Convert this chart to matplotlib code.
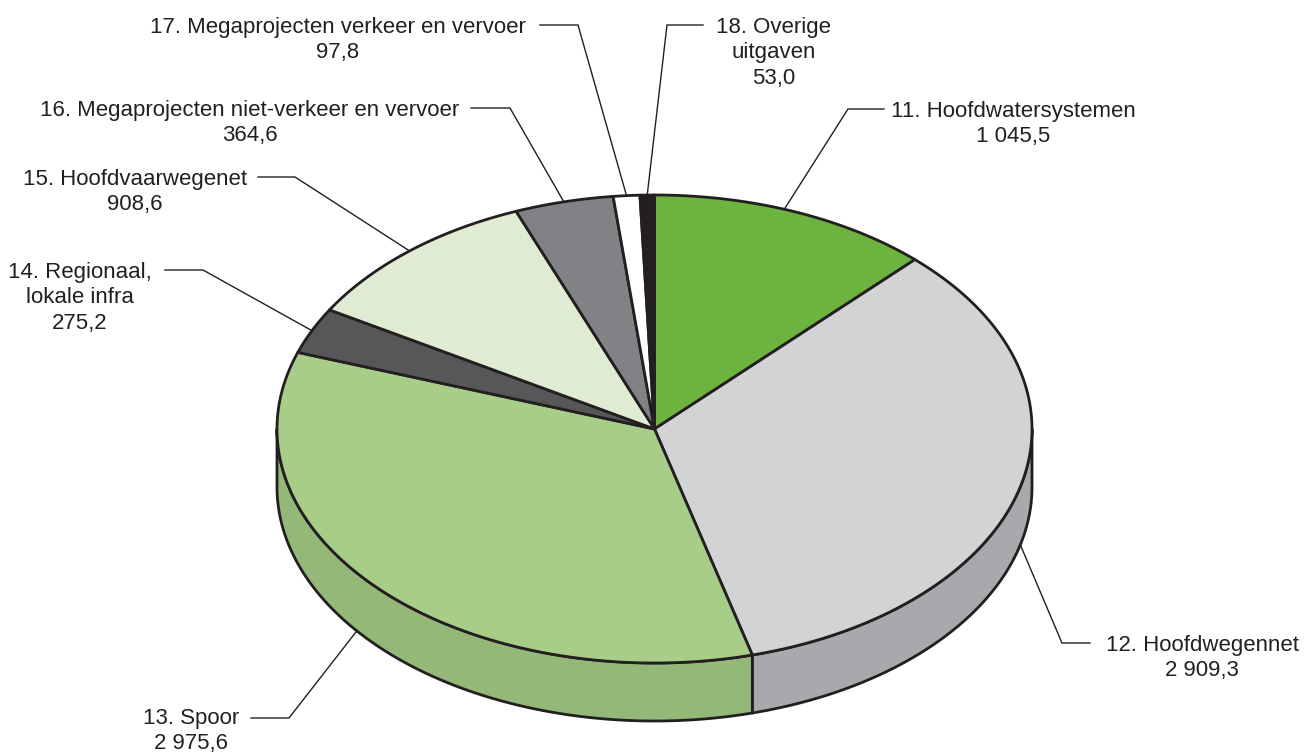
import numpy as np
import matplotlib
matplotlib.use("Agg")
import matplotlib.pyplot as plt
from matplotlib.patches import Polygon

# ---- data ----
categories = [
    "11. Hoofdwatersystemen",
    "12. Hoofdwegennet",
    "13. Spoor",
    "14. Regionaal,\nlokale infra",
    "15. Hoofdvaarwegenet",
    "16. Megaprojecten niet-verkeer en vervoer",
    "17. Megaprojecten verkeer en vervoer",
    "18. Overige\nuitgaven",
]
values = [1045.5, 2909.3, 2975.6, 275.2, 908.6, 364.6, 97.8, 53.0]

top_colors = ["#6cb33f", "#d1d3d4", "#a8cd89", "#555759",
              "#dfebd3", "#808285", "#ffffff", "#231f20"]
side_colors = ["#5a9a32", "#a7a9ac", "#94b877", "#3f4143",
               "#c4d3b8", "#636567", "#e6e6e6", "#231f20"]

# ---- layout (pixel space) ----
W, H = 1307, 752
cx, cy = 654.5, 429.0
rx, ry = 377.5, 234.0
depth = 58.0
edge = "#231f20"

# label placement: (text centre x, first-line centre y, elbow point, horizontal end, anchor angle shift)
label_layout = [
    (1013, 109, (848, 109), (884, 109), -1.7),
    (1202, 643, (1062, 643), (1090, 643), 0),
    (191, 716, (289, 718), (251, 718), 5),
    (80, 270, (203, 270), (165, 270), 0),
    (135, 177, (295, 177), (258, 177), 0),
    (250, 108, (510, 108), (471, 108), 0),
    (338, 25, (578, 25), (540, 25), 0),
    (774, 25, (667, 25), (703, 25), 0),
]
line_step = 25.3


def fmt_nl(v):
    s = f"{v:,.1f}"
    return s.replace(",", " ").replace(".", ",")


def pt(theta_deg, dy=0.0):
    t = np.radians(theta_deg)
    return cx + rx * np.sin(t), cy - ry * np.cos(t) + dy


fig = plt.figure(figsize=(W / 100, H / 100), dpi=100)
ax = fig.add_axes([0, 0, 1, 1])
ax.set_xlim(0, W)
ax.set_ylim(H, 0)
ax.axis("off")

total = sum(values)
bounds = np.concatenate([[0], np.cumsum(values) / total * 360.0])

# ---- sides (front half: theta 90..270) ----
for i in range(len(values)):
    a, b = bounds[i], bounds[i + 1]
    lo, hi = max(a, 90.0), min(b, 270.0)
    if hi <= lo:
        continue
    th = np.linspace(lo, hi, 200)
    topx, topy = pt(th)
    botx, boty = pt(th[::-1], depth)
    poly = np.column_stack([np.concatenate([topx, botx]),
                            np.concatenate([topy, boty])])
    ax.add_patch(Polygon(poly, closed=True, facecolor=side_colors[i],
                         edgecolor=edge, lw=2.0, joinstyle="round", zorder=1))

# ---- top face wedges ----
for i in range(len(values)):
    a, b = bounds[i], bounds[i + 1]
    th = np.linspace(a, b, max(int((b - a) * 3), 4))
    x, y = pt(th)
    poly = np.column_stack([np.concatenate([[cx], x]),
                            np.concatenate([[cy], y])])
    ax.add_patch(Polygon(poly, closed=True, facecolor=top_colors[i],
                         edgecolor=edge, lw=2.0, joinstyle="round", zorder=2))

# ---- leader lines and labels ----
fontkw = dict(fontsize=16, color="#231f20", family=["Liberation Sans", "DejaVu Sans"])
for i, (name, v) in enumerate(zip(categories, values)):
    tx, ty, elbow, hend, shift = label_layout[i]
    mid = (bounds[i] + bounds[i + 1]) / 2.0 + shift
    if 90.0 < mid < 270.0:
        ax_, ay_ = pt(mid, depth)
    else:
        ax_, ay_ = pt(mid)
    ax.plot([ax_, elbow[0], hend[0]], [ay_, elbow[1], hend[1]],
            color="#231f20", lw=1.0, zorder=3, solid_joinstyle="miter")
    lines = name.split("\n") + [fmt_nl(v)]
    for k, ln in enumerate(lines):
        ax.text(tx, ty + k * line_step, ln, ha="center", va="center_baseline",
                zorder=4, **fontkw)

fig.savefig("out.png", dpi=100, facecolor="white")
